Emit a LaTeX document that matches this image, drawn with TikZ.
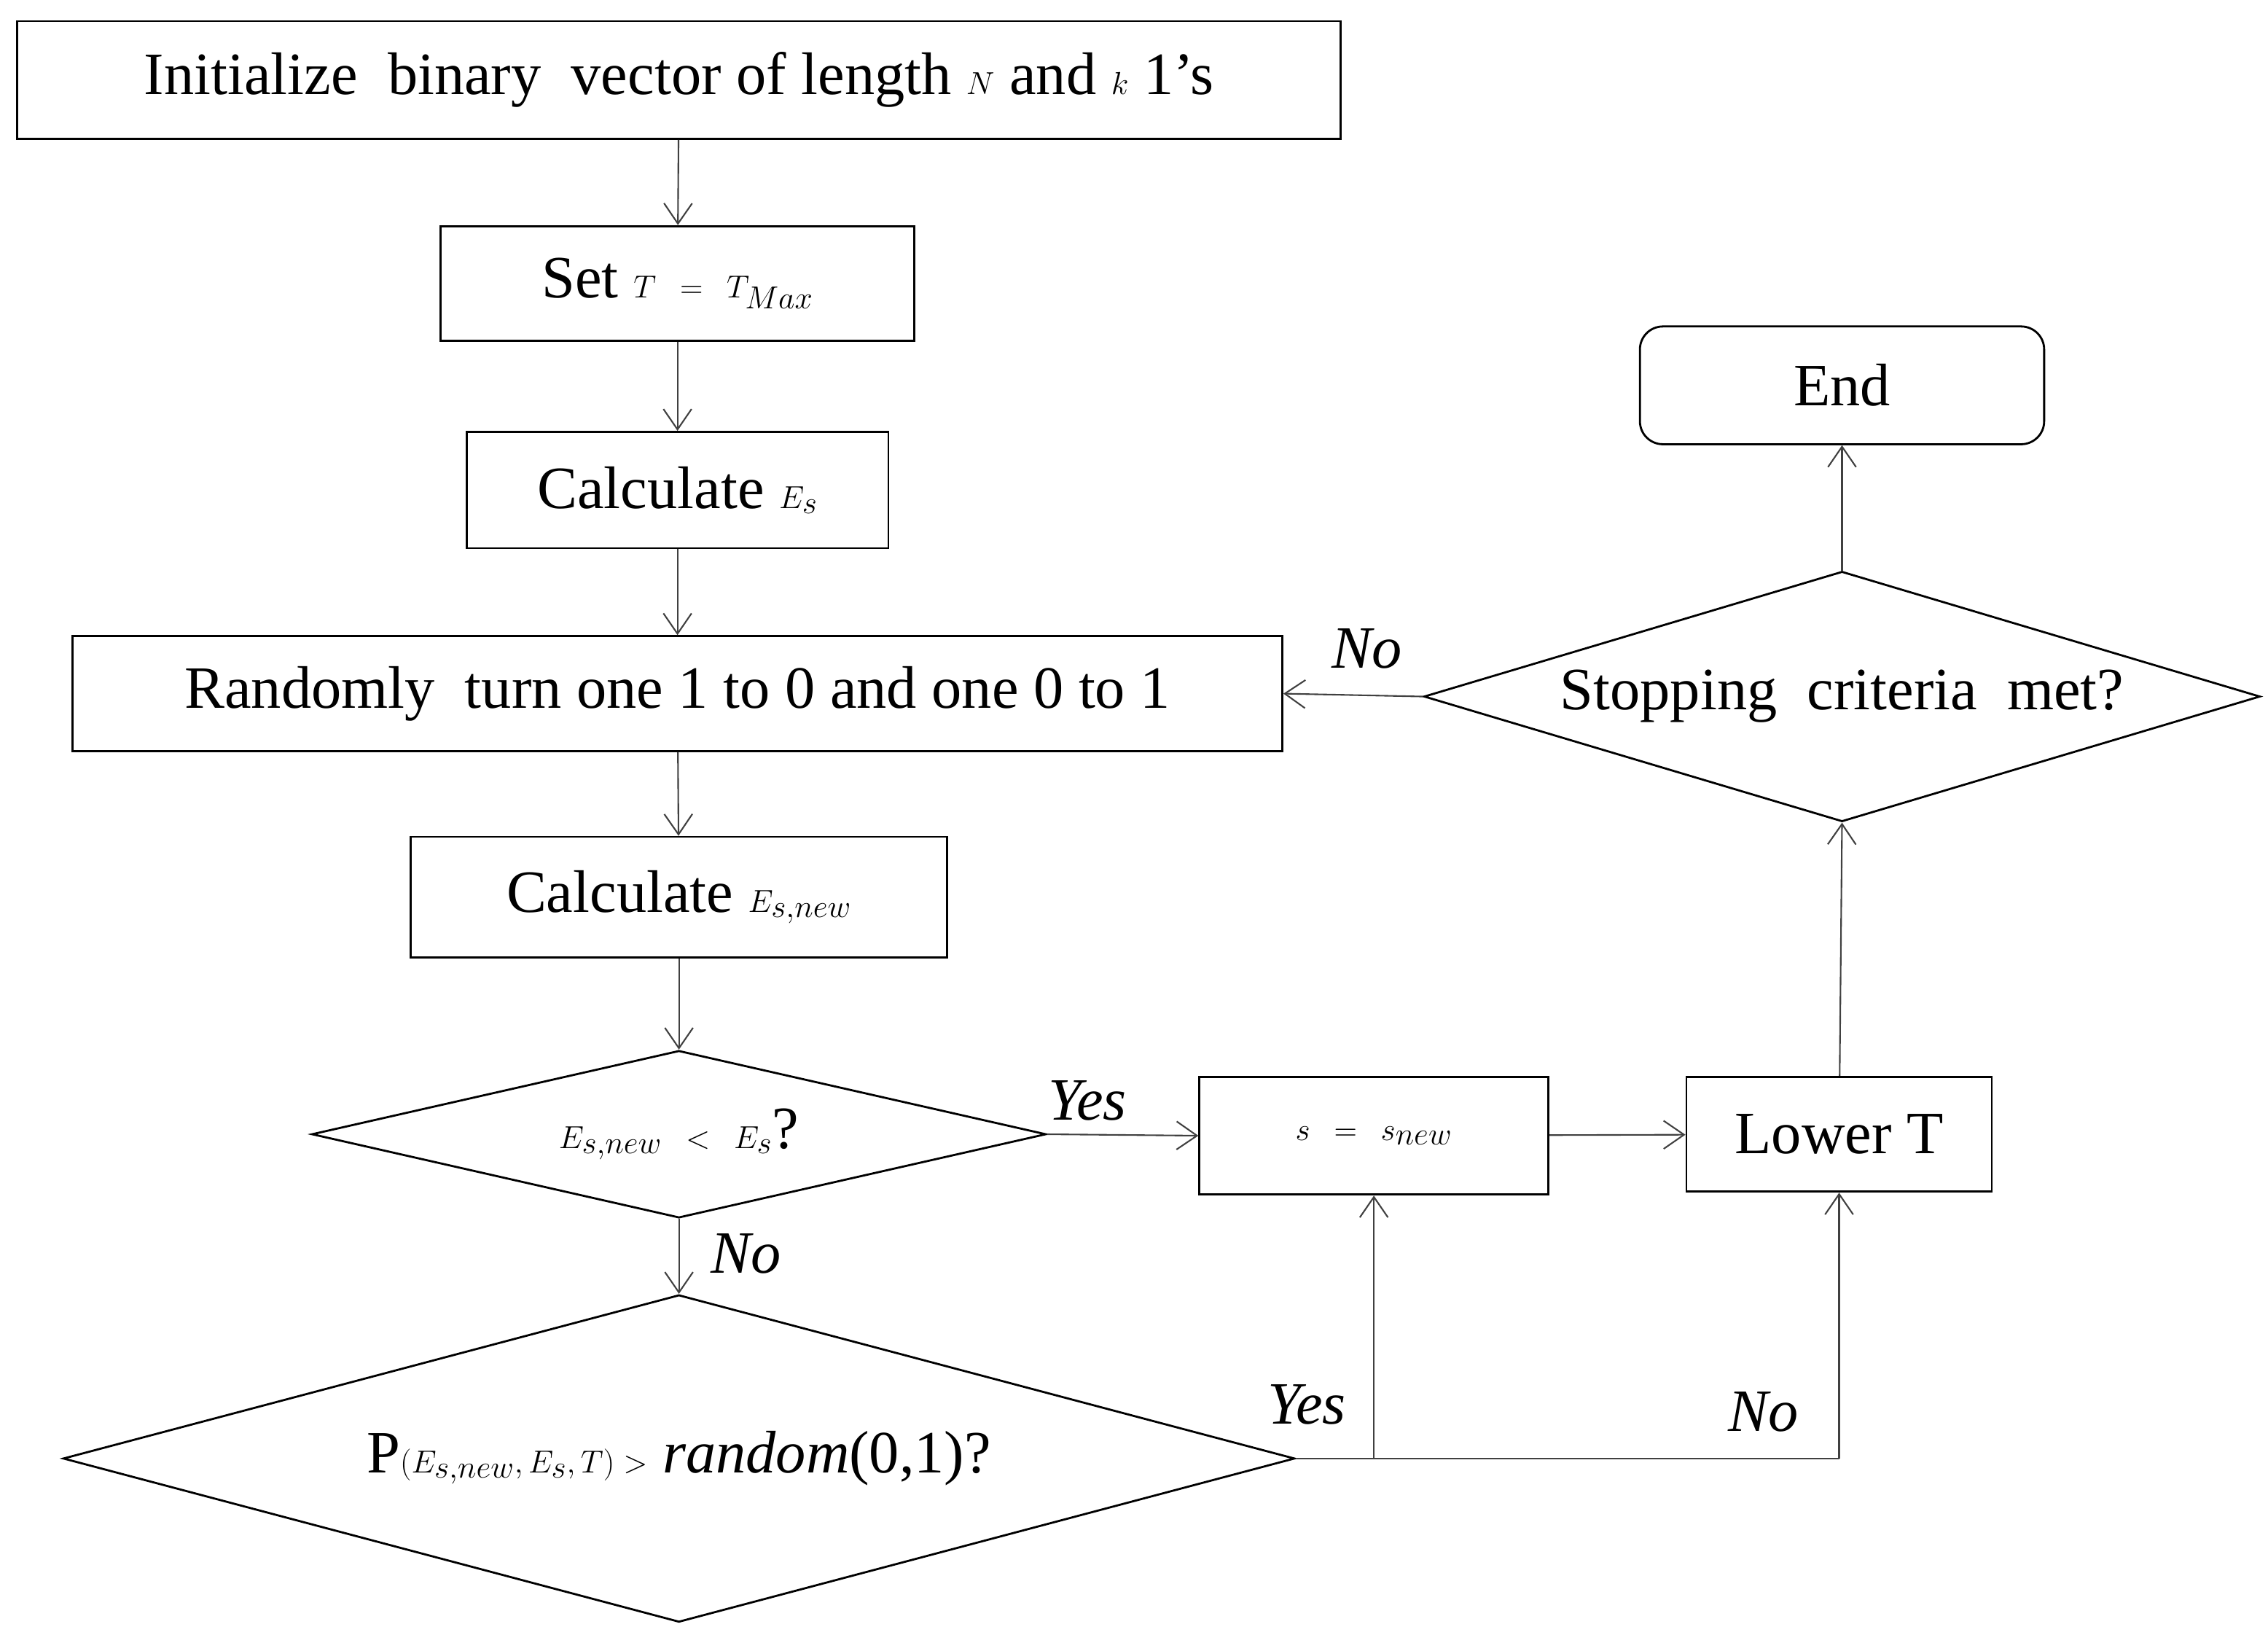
\documentclass[tikz,border=0pt]{standalone}
\usepackage{fontspec}
\setmainfont{Liberation Serif}
\usetikzlibrary{shapes.geometric,arrows.meta}
\begin{document}
\begin{tikzpicture}[x=0.04cm,y=-0.04cm,
  every node/.style={font=\fontsize{47}{56}\selectfont, inner sep=0pt},
  box/.style={draw=black, line width=1.6pt, rectangle},
  dia/.style={draw=black, line width=1.6pt, diamond},
  arr/.style={draw=black!75, line width=1.2pt, -{Straight Barb[length=16pt,width=22pt,line width=1.2pt]}},
  lbl/.style={font=\fontsize{47}{56}\selectfont\itshape}]
\useasboundingbox (0,0) rectangle (1560,1124);
\node[box, minimum width=36.4cm, minimum height=3.24cm] (init) at (467,55) {Initialize\ \ binary\ \ vector of length $N$ and $k$ 1’s};
\node[box, minimum width=13.04cm, minimum height=3.16cm] (sett) at (466,195) {Set $T\ =\ T_{Max}$};
\node[box, minimum width=11.6cm, minimum height=3.2cm] (calc) at (466,337) {Calculate $E_s$};
\node[box, minimum width=33.28cm, minimum height=3.16cm] (rand) at (466,477) {Randomly\ \ turn one 1 to 0 and one 0 to 1};
\node[box, minimum width=14.76cm, minimum height=3.32cm] (calcn) at (467,617) {Calculate $E_{s,new}$};
\node[dia, minimum width=20.2cm, minimum height=4.6cm] (d1) at (467,780) {};
\node at (d1) {$E_{s,new}\ <\ E_s$?};
\node[dia, minimum width=33.88cm, minimum height=9cm] (d2) at (467,1003) {};
\node at (d2) {P$\Big(E_{s,new}, E_s, T\Big) > $ \textit{random}(0,1)?};
\node[box, minimum width=9.6cm, minimum height=3.24cm] (snew) at (945,781) {$s\ =\ s_{new}$};
\node[box, minimum width=8.4cm, minimum height=3.16cm] (lower) at (1265,780) {Lower\ T};
\node[dia, minimum width=23cm, minimum height=6.88cm] (stop) at (1267,479) {};
\node at (stop) {Stopping\ \ criteria\ \ met?};
\node[box, rounded corners=18pt, minimum width=11.12cm, minimum height=3.24cm] (end) at (1267,265) {End};
\coordinate (j1) at (945,1003);
\coordinate (j2) at (1265,1003);
\draw[arr] (init) -- (sett);
\draw[arr] (sett) -- (calc);
\draw[arr] (calc) -- (rand);
\draw[arr] (rand) -- (calcn);
\draw[arr] (calcn) -- (d1);
\draw[arr] (d1) -- (d2);
\draw[arr] (d1.east) -- (snew.west);
\draw[arr] (snew) -- (lower);
\draw[arr] (lower) -- (stop.south);
\draw[arr] (stop) -- (end);
\draw[arr] (stop.west) -- (rand.east);
\draw[draw=black!75, line width=1.2pt] (d2.east) -- (j2);
\draw[arr] (j1) -- (snew.south);
\draw[arr] (j2) -- (lower.south);
\node[lbl] at (748,757) {Yes};
\node[lbl] at (513,862) {No};
\node[lbl] at (899,966) {Yes};
\node[lbl] at (1213,971) {No};
\node[lbl] at (940,446) {No};
\end{tikzpicture}
\end{document}
